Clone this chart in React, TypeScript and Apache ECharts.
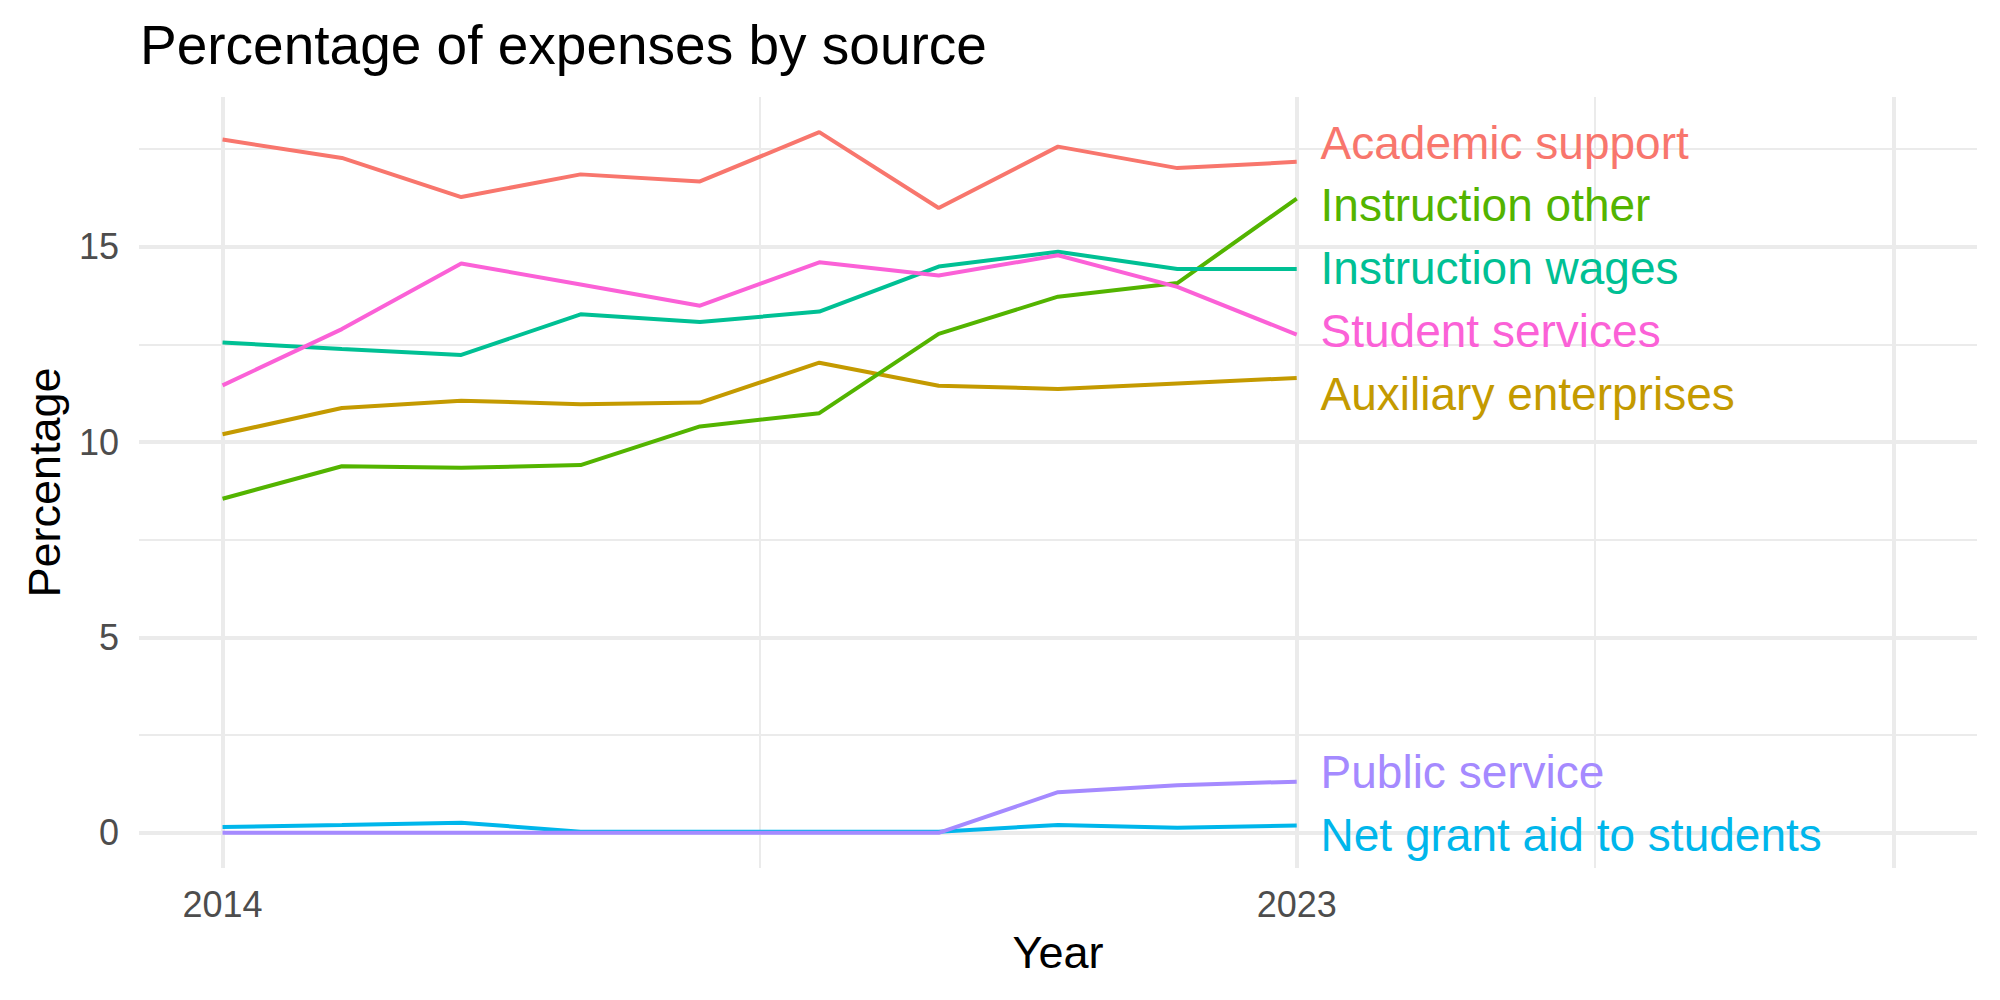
import React, { useEffect, useRef } from "react";
import * as echarts from "echarts";

// Expense shares (percent of total) by source, 2014–2023
const years = [2014, 2015, 2016, 2017, 2018, 2019, 2020, 2021, 2022, 2023];

const academicSupport = [17.74, 17.27, 16.27, 16.85, 16.67, 17.93, 15.99, 17.56, 17.01, 17.17];
const auxiliaryEnterprises = [10.2, 10.87, 11.06, 10.97, 11.01, 12.03, 11.44, 11.36, 11.5, 11.64];
const instructionOther = [8.55, 9.38, 9.34, 9.41, 10.4, 10.74, 12.77, 13.72, 14.07, 16.23];
const instructionWages = [12.55, 12.38, 12.23, 13.27, 13.07, 13.34, 14.49, 14.87, 14.43, 14.43];
const netGrantAid = [0.15, 0.2, 0.26, 0.03, 0.03, 0.03, 0.03, 0.2, 0.13, 0.19];
const publicService = [0, 0, 0, 0, 0, 0, 0, 1.04, 1.22, 1.31];
const studentServices = [11.45, 12.89, 14.57, 14.03, 13.49, 14.6, 14.26, 14.78, 13.97, 12.75];

const seriesNames = [
  "Academic support",
  "Auxiliary enterprises",
  "Instruction other",
  "Instruction wages",
  "Net grant aid to students",
  "Public service",
  "Student services",
];
const seriesValues = [
  academicSupport,
  auxiliaryEnterprises,
  instructionOther,
  instructionWages,
  netGrantAid,
  publicService,
  studentServices,
];
const palette = ["#F8766D", "#C49A00", "#53B400", "#00C094", "#00B6EB", "#A58AFF", "#FB61D7"];

const xTickLabels = [2014, 2023];
const xMajorGrid = [2014, 2023, 2028];
const xMinorGrid = [2018.5, 2025.5];
const yTickLabels = [0, 5, 10, 15];
const yMajorGrid = [0, 5, 10, 15];
const yMinorGrid = [2.5, 7.5, 12.5, 17.5];

const FONT = '"Liberation Sans", Arial, Helvetica, sans-serif';

// Spread end-of-line labels so they keep a minimum vertical gap,
// centring each overlapping group on the mean of its values.
function spreadLabels(values: number[], gap: number): number[] {
  const order = values.map((_, i) => i).sort((a, b) => values[a] - values[b]);
  let clusters = order.map((i) => ({ idx: [i], center: values[i] }));
  let merged = true;
  while (merged) {
    merged = false;
    for (let k = 0; k < clusters.length - 1; k++) {
      const a = clusters[k];
      const b = clusters[k + 1];
      const aTop = a.center + ((a.idx.length - 1) * gap) / 2;
      const bBottom = b.center - ((b.idx.length - 1) * gap) / 2;
      if (bBottom - aTop < gap) {
        const idx = a.idx.concat(b.idx);
        const center = idx.reduce((s, i) => s + values[i], 0) / idx.length;
        clusters.splice(k, 2, { idx, center });
        merged = true;
        break;
      }
    }
  }
  const out: number[] = new Array(values.length);
  clusters.forEach((c) =>
    c.idx.forEach((i, j) => {
      out[i] = c.center + (j - (c.idx.length - 1) / 2) * gap;
    })
  );
  return out;
}

export default function App() {
  const ref = useRef<HTMLDivElement>(null);

  useEffect(() => {
    if (!ref.current) return;
    const chart = echarts.init(ref.current, undefined, { renderer: "svg" });

    const lastIdx = years.length - 1;
    const endValues = seriesValues.map((v) => v[lastIdx]);
    const labelYs = spreadLabels(endValues, 1.61);
    const labelX = years[lastIdx] + 0.2;

    const gridLine = (v: number, axis: "xAxis" | "yAxis", width: number) => ({
      [axis]: v,
      lineStyle: { color: "#EBEBEB", width, type: "solid" },
    });

    const lineSeries = seriesNames.map((name, i) => ({
      name,
      type: "line",
      data: years.map((y, j) => [y, seriesValues[i][j]]),
      showSymbol: false,
      symbol: "none",
      lineStyle: { color: palette[i], width: 4 },
      itemStyle: { color: palette[i] },
      z: 3,
      silent: true,
    }));

    const option: any = {
      animation: false,
      backgroundColor: "#FFFFFF",
      title: {
        text: "Percentage of expenses by source",
        left: 140,
        top: 17,
        padding: 0,
        textStyle: { fontFamily: FONT, fontSize: 55, fontWeight: "normal", color: "#000000" },
      },
      grid: { left: 139, right: 23, top: 97, bottom: 132, containLabel: false },
      xAxis: {
        type: "value",
        min: 2013.3,
        max: 2028.7,
        name: "Year",
        nameLocation: "middle",
        nameGap: 62,
        nameTextStyle: { fontFamily: FONT, fontSize: 45, color: "#000000" },
        axisLine: { show: false },
        axisTick: { show: false },
        splitLine: { show: false },
        axisLabel: {
          customValues: xTickLabels,
          fontFamily: FONT,
          fontSize: 36,
          color: "#4D4D4D",
          margin: 18,
          formatter: (v: number) => String(v),
        },
      },
      yAxis: {
        type: "value",
        min: -0.9,
        max: 18.83,
        name: "Percentage",
        nameLocation: "middle",
        nameRotate: 90,
        nameGap: 72,
        nameTextStyle: { fontFamily: FONT, fontSize: 45, color: "#000000" },
        axisLine: { show: false },
        axisTick: { show: false },
        splitLine: { show: false },
        axisLabel: {
          customValues: yTickLabels,
          fontFamily: FONT,
          fontSize: 36,
          color: "#4D4D4D",
          margin: 20,
          formatter: (v: number) => String(v),
        },
      },
      series: [
        {
          name: "grid",
          type: "line",
          data: [],
          silent: true,
          z: 1,
          markLine: {
            z: 1,
            silent: true,
            symbol: ["none", "none"],
            label: { show: false },
            emphasis: { disabled: true },
            data: [
              ...yMinorGrid.map((v) => gridLine(v, "yAxis", 2)),
              ...xMinorGrid.map((v) => gridLine(v, "xAxis", 2)),
              ...yMajorGrid.map((v) => gridLine(v, "yAxis", 4)),
              ...xMajorGrid.map((v) => gridLine(v, "xAxis", 4)),
            ],
          },
        },
        ...lineSeries,
        {
          name: "labels",
          type: "scatter",
          symbolSize: 0,
          silent: true,
          z: 4,
          itemStyle: { opacity: 1 },
          data: seriesNames.map((name, i) => ({
            name,
            value: [labelX, labelYs[i]],
            itemStyle: { color: palette[i], opacity: 1 },
            label: { color: palette[i], opacity: 1 },
          })),
          label: {
            show: true,
            position: "right",
            distance: 0,
            formatter: (p: any) => p.name,
            fontFamily: FONT,
            fontSize: 46,
          },
        },
      ],
    };

    chart.setOption(option);
    return () => chart.dispose();
  }, []);

  return (
    <div
      ref={ref}
      style={{ position: "fixed", left: 0, top: 0, width: 2000, height: 1000, background: "#fff" }}
    />
  );
}
